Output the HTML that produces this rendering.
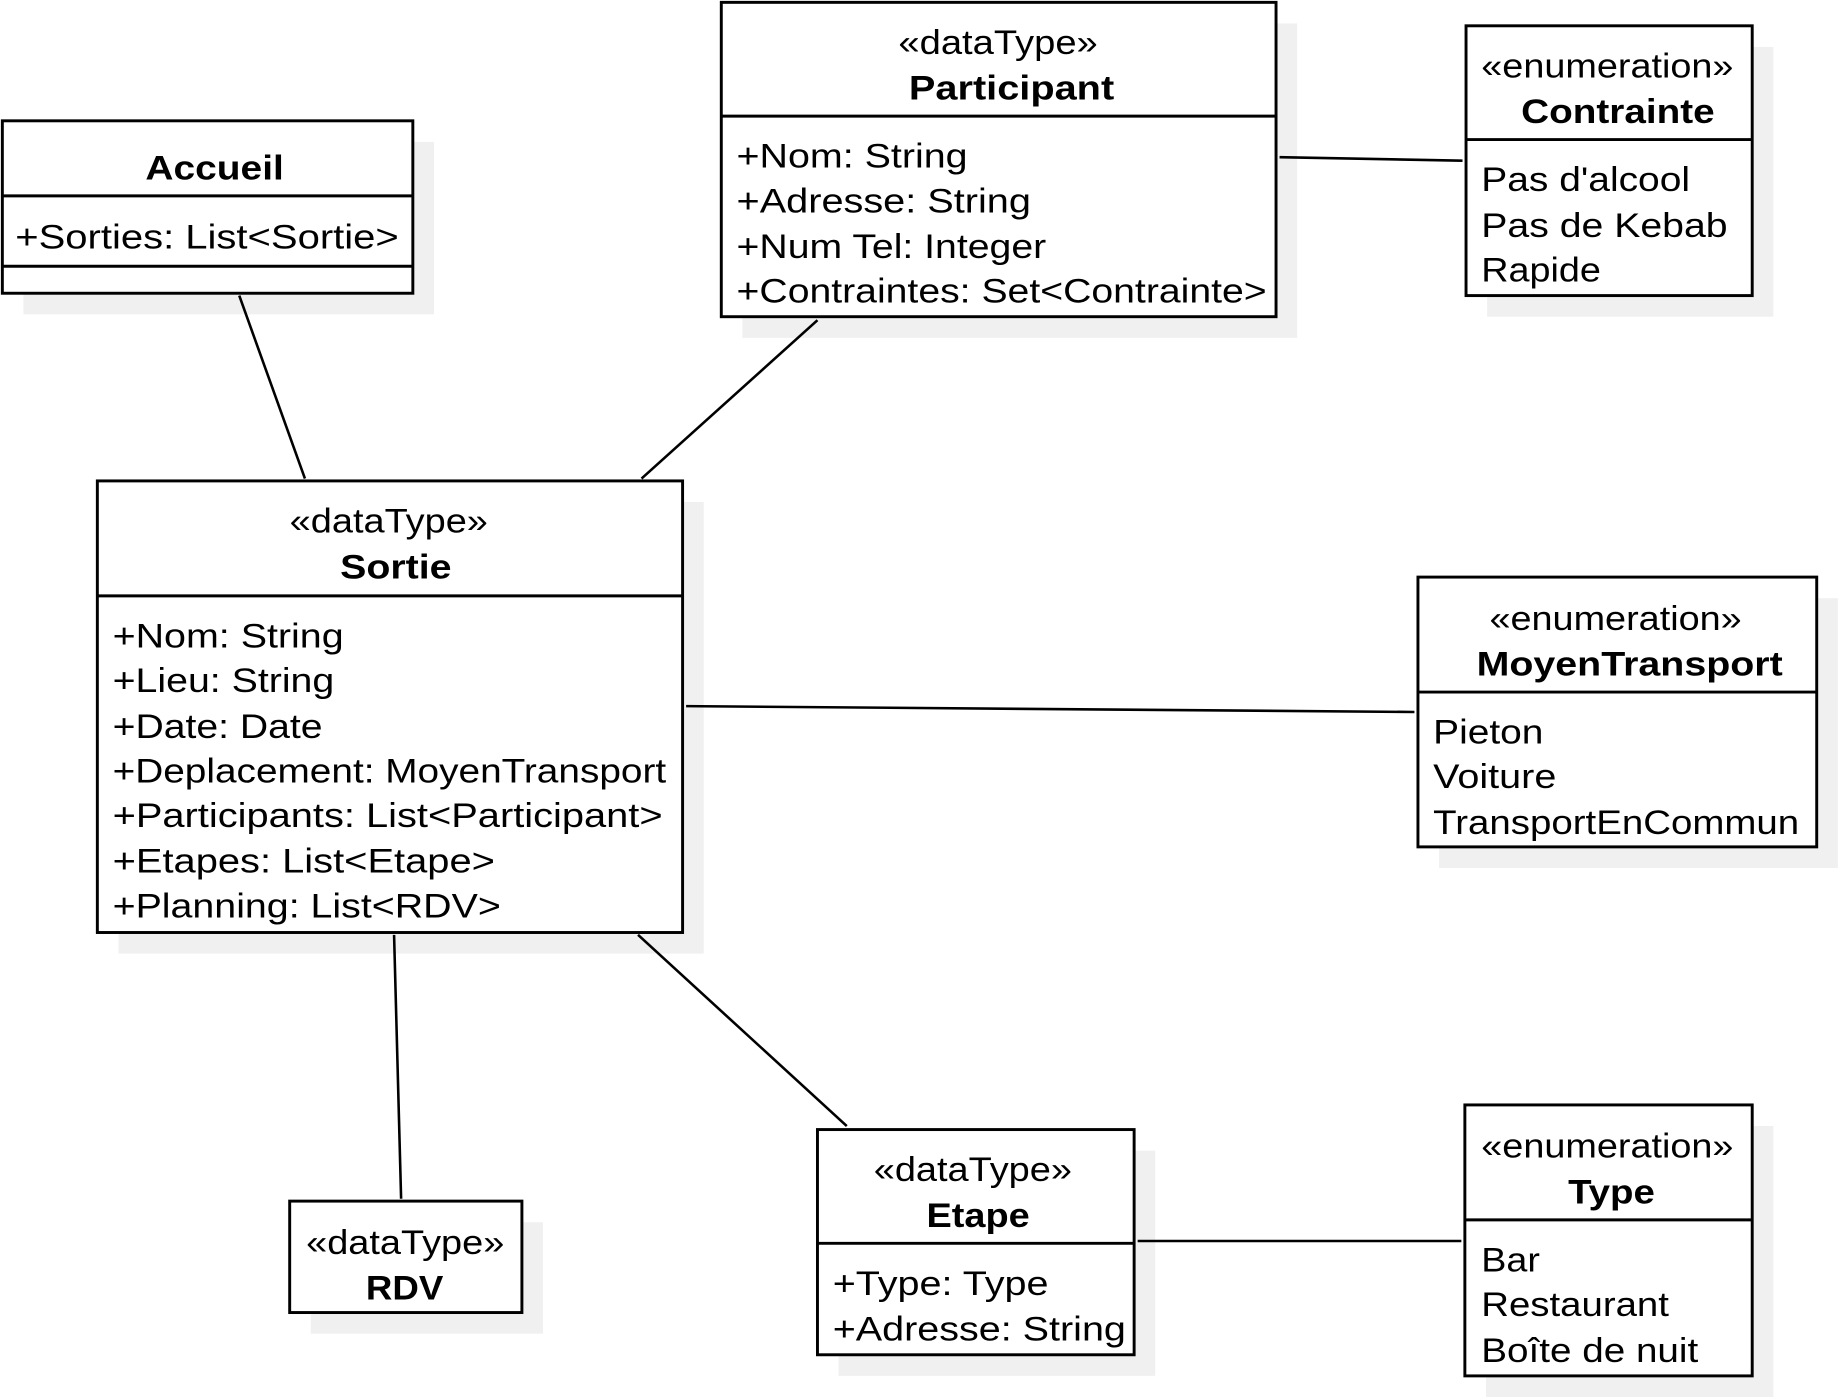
<!DOCTYPE html>
<html><head><style>html,body{margin:0;padding:0;background:#fff}svg{display:block}</style></head><body>
<svg xmlns="http://www.w3.org/2000/svg" width="1839" height="1397" viewBox="0 0 1568 1191" preserveAspectRatio="none" font-family="'Liberation Sans', Arial, sans-serif" font-size="29">
<rect width="1568" height="1191" fill="#fff"/>
<g fill="#f0f0f0">
<rect x="20" y="121" width="350" height="147"/>
<rect x="633" y="20" width="473" height="268"/>
<rect x="1268" y="40" width="244" height="230"/>
<rect x="101" y="428" width="499" height="385"/>
<rect x="1227" y="510" width="340" height="230"/>
<rect x="265" y="1042" width="198" height="95"/>
<rect x="715" y="981" width="270" height="192"/>
<rect x="1267" y="960" width="245" height="231"/>
</g>
<g stroke="#000" stroke-width="2.2" fill="none">
<line x1="204" y1="252" x2="260" y2="408"/>
<line x1="697" y1="273" x2="547" y2="408"/>
<line x1="1091" y1="134" x2="1247" y2="137"/>
<line x1="585" y1="602" x2="1206" y2="607"/>
<line x1="336" y1="797" x2="342" y2="1022"/>
<line x1="544" y1="797" x2="722" y2="960"/>
<line x1="970" y1="1058" x2="1246" y2="1058"/>
</g>
<g stroke="#000" stroke-width="2.5" fill="#fff">
<rect x="2" y="103" width="350" height="147"/>
<rect x="615" y="2" width="473" height="268"/>
<rect x="1250" y="22" width="244" height="230"/>
<rect x="83" y="410" width="499" height="385"/>
<rect x="1209" y="492" width="340" height="230"/>
<rect x="247" y="1024" width="198" height="95"/>
<rect x="697" y="963" width="270" height="192"/>
<rect x="1249" y="942" width="245" height="231"/>
</g>
<g stroke="#000" stroke-width="2.5">
<line x1="2" y1="167" x2="352" y2="167"/>
<line x1="2" y1="227" x2="352" y2="227"/>
<line x1="615" y1="99" x2="1088" y2="99"/>
<line x1="1250" y1="119" x2="1494" y2="119"/>
<line x1="83" y1="508" x2="582" y2="508"/>
<line x1="1209" y1="590" x2="1549" y2="590"/>
<line x1="697" y1="1060" x2="967" y2="1060"/>
<line x1="1249" y1="1040" x2="1494" y2="1040"/>
</g>
<g lengthAdjust="spacingAndGlyphs">
<text x="124" y="153" font-weight="bold" textLength="118" lengthAdjust="spacingAndGlyphs">Accueil</text>
<text x="13" y="212" textLength="327" lengthAdjust="spacingAndGlyphs">+Sorties: List&lt;Sortie&gt;</text>

<text x="766" y="46" textLength="170" lengthAdjust="spacingAndGlyphs">«dataType»</text>
<text x="775" y="85" font-weight="bold" textLength="175" lengthAdjust="spacingAndGlyphs">Participant</text>
<text x="628" y="143" textLength="197" lengthAdjust="spacingAndGlyphs">+Nom: String</text>
<text x="628" y="181" textLength="251" lengthAdjust="spacingAndGlyphs">+Adresse: String</text>
<text x="628" y="220" textLength="264" lengthAdjust="spacingAndGlyphs">+Num Tel: Integer</text>
<text x="628" y="258" textLength="452" lengthAdjust="spacingAndGlyphs">+Contraintes: Set&lt;Contrainte&gt;</text>

<text x="1263" y="66" textLength="215" lengthAdjust="spacingAndGlyphs">«enumeration»</text>
<text x="1297" y="105" font-weight="bold" textLength="165" lengthAdjust="spacingAndGlyphs">Contrainte</text>
<text x="1263" y="163" textLength="178" lengthAdjust="spacingAndGlyphs">Pas d'alcool</text>
<text x="1263" y="202" textLength="210" lengthAdjust="spacingAndGlyphs">Pas de Kebab</text>
<text x="1263" y="240" textLength="102" lengthAdjust="spacingAndGlyphs">Rapide</text>

<text x="247" y="454" textLength="169" lengthAdjust="spacingAndGlyphs">«dataType»</text>
<text x="290" y="493" font-weight="bold" textLength="95" lengthAdjust="spacingAndGlyphs">Sortie</text>
<text x="96" y="552" textLength="197" lengthAdjust="spacingAndGlyphs">+Nom: String</text>
<text x="96" y="590" textLength="189" lengthAdjust="spacingAndGlyphs">+Lieu: String</text>
<text x="96" y="629" textLength="179" lengthAdjust="spacingAndGlyphs">+Date: Date</text>
<text x="96" y="667" textLength="472" lengthAdjust="spacingAndGlyphs">+Deplacement: MoyenTransport</text>
<text x="96" y="705" textLength="469" lengthAdjust="spacingAndGlyphs">+Participants: List&lt;Participant&gt;</text>
<text x="96" y="744" textLength="326" lengthAdjust="spacingAndGlyphs">+Etapes: List&lt;Etape&gt;</text>
<text x="96" y="782" textLength="331" lengthAdjust="spacingAndGlyphs">+Planning: List&lt;RDV&gt;</text>

<text x="1270" y="537" textLength="215" lengthAdjust="spacingAndGlyphs">«enumeration»</text>
<text x="1259" y="576" font-weight="bold" textLength="261" lengthAdjust="spacingAndGlyphs">MoyenTransport</text>
<text x="1222" y="634" textLength="94" lengthAdjust="spacingAndGlyphs">Pieton</text>
<text x="1222" y="672" textLength="105" lengthAdjust="spacingAndGlyphs">Voiture</text>
<text x="1222" y="711" textLength="312" lengthAdjust="spacingAndGlyphs">TransportEnCommun</text>

<text x="261" y="1069" textLength="169" lengthAdjust="spacingAndGlyphs">«dataType»</text>
<text x="312" y="1108" font-weight="bold" textLength="66" lengthAdjust="spacingAndGlyphs">RDV</text>

<text x="745" y="1007" textLength="169" lengthAdjust="spacingAndGlyphs">«dataType»</text>
<text x="790" y="1046" font-weight="bold" textLength="88" lengthAdjust="spacingAndGlyphs">Etape</text>
<text x="710" y="1104" textLength="184" lengthAdjust="spacingAndGlyphs">+Type: Type</text>
<text x="710" y="1143" textLength="250" lengthAdjust="spacingAndGlyphs">+Adresse: String</text>

<text x="1263" y="987" textLength="215" lengthAdjust="spacingAndGlyphs">«enumeration»</text>
<text x="1337" y="1026" font-weight="bold" textLength="74" lengthAdjust="spacingAndGlyphs">Type</text>
<text x="1263" y="1084" textLength="50" lengthAdjust="spacingAndGlyphs">Bar</text>
<text x="1263" y="1122" textLength="160" lengthAdjust="spacingAndGlyphs">Restaurant</text>
<text x="1263" y="1161" textLength="185" lengthAdjust="spacingAndGlyphs">Boîte de nuit</text>
</g>
</svg>
</body></html>
